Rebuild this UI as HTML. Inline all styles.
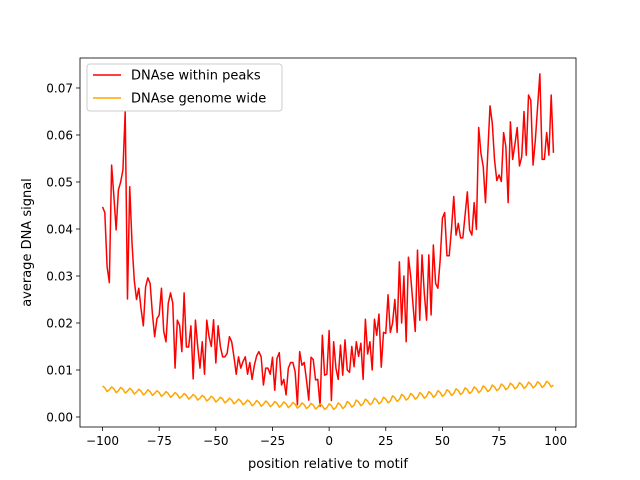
<!DOCTYPE html>
<html><head><meta charset="utf-8"><style>
html,body{margin:0;padding:0;background:#fff;}
svg{display:block;font-family:"DejaVu Sans","Liberation Sans",sans-serif;}
</style></head><body>
<svg id="chart" width="640" height="480" viewBox="0 0 640 480"></svg>
<script>
const positions = [];
for (let i = -100; i <= 99; i++) positions.push(i);
const peaksSeries = [
.0447,.0435,.032,.0286,.0536,.047,.0398,.0483,.050,.0526,
.065,.0251,.049,.037,.0291,.025,.0274,.023,.0194,.0277,
.0296,.0284,.022,.0171,.0209,.0217,.0274,.0182,.016,.0242,
.0264,.0242,.0104,.0206,.0195,.0139,.0264,.0149,.0149,.0194,
.0081,.0206,.015,.0104,.016,.0091,.0206,.0171,.015,.0207,
.0115,.0194,.015,.0128,.0128,.0136,.0171,.016,.0128,.0091,
.0128,.0104,.0118,.0128,.0091,.0116,.008,.011,.013,.0139,
.0128,.0068,.0104,.0104,.0091,.0127,.0057,.0125,.0137,.0068,
.008,.0047,.0104,.0116,.0116,.0096,.0026,.0139,.011,.0116,
.0079,.0036,.0127,.0122,.0079,.008,.0023,.0174,.0089,.0091,
.0184,.0035,.016,.0104,.008,.0153,.0089,.0164,.01,.0095,
.015,.0107,.016,.0129,.0157,.008,.0208,.0134,.016,.01,
.0208,.0174,.0219,.0106,.018,.0178,.026,.018,.02,.025,
.018,.033,.02,.03,.016,.034,.0299,.024,.0182,.0355,
.0206,.0345,.0263,.0206,.0345,.0217,.0366,.0284,.0274,.0334,
.0423,.0435,.0343,.0343,.040,.0469,.0387,.0412,.0381,.0381,
.043,.0479,.0398,.0387,.0456,.0399,.0616,.0561,.0533,.0456,
.056,.0662,.0625,.0547,.0503,.0515,.0501,.0605,.0575,.0456,
.0628,.0548,.058,.0616,.0534,.0554,.065,.0557,.0685,.0674,
.0536,.0589,.066,.073,.0548,.0548,.0605,.0557,.0685,.0562];
const genomeSeries = [
.0066,.0062,.0054,.0058,.0064,.0060,.0052,.0056,.0063,.0059,.0051,.0055,.0061,.0057,.0049,.0053,
.0059,.0055,.0047,.0051,.0058,.0054,.0046,.0050,.0056,.0052,.0044,.0048,.0054,.0050,.0042,.0046,
.0052,.0048,.0040,.0044,.0050,.0046,.0038,.0042,.0048,.0044,.0036,.0040,.0046,.0042,.0034,.0038,
.0044,.0040,.0032,.0036,.0042,.0038,.0030,.0034,.0040,.0036,.0028,.0032,.0038,.0034,.0026,.0030,
.0036,.0032,.0024,.0028,.0035,.0031,.0023,.0027,.0034,.0030,.0022,.0026,.0033,.0029,.0021,.0025,
.0032,.0028,.0020,.0024,.0031,.0027,.0019,.0023,.0030,.0026,.0018,.0022,.0029,.0025,.0017,.0021,
.0028,.0024,.0016,.0020,.0028,.0024,.0016,.0020,.0030,.0026,.0018,.0022,.0033,.0029,.0021,.0025,
.0036,.0032,.0024,.0028,.0038,.0034,.0026,.0030,.0040,.0036,.0028,.0032,.0042,.0038,.0030,.0034,
.0045,.0041,.0033,.0037,.0048,.0044,.0036,.0040,.0050,.0046,.0038,.0042,.0052,.0048,.0040,.0044,
.0054,.0050,.0042,.0046,.0056,.0052,.0044,.0048,.0058,.0054,.0046,.0050,.0060,.0056,.0048,.0052,
.0062,.0058,.0050,.0054,.0064,.0060,.0052,.0056,.0066,.0062,.0054,.0058,.0068,.0064,.0056,.0060,
.0070,.0066,.0058,.0062,.0072,.0068,.0060,.0064,.0073,.0069,.0061,.0065,.0074,.0070,.0062,.0066,
.0075,.0071,.0063,.0067,.0076,.0072,.0064,.0068];
const xTicks = [-100,-75,-50,-25,0,25,50,75,100];
const yTicks = [0,0.01,0.02,0.03,0.04,0.05,0.06,0.07];
const yTickLabels = ["0.00","0.01","0.02","0.03","0.04","0.05","0.06","0.07"];

const L=80,R=576,T=58,B=427;
const xMin=-109.95,xMax=108.95,yMin=-0.00213,yMax=0.07638;
const sx=v=>L+(v-xMin)/(xMax-xMin)*(R-L);
const sy=v=>B-(v-yMin)/(yMax-yMin)*(B-T);
const NS="http://www.w3.org/2000/svg";
const svg=document.getElementById('chart');
function mk(tag,attrs,parent){const e=document.createElementNS(NS,tag);for(const k in attrs)e.setAttribute(k,attrs[k]);(parent||svg).appendChild(e);return e;}

const xg=mk('g',{});


xTicks.forEach(t=>{
  const x=sx(t);
  const tk=mk('line',{x1:x,x2:x,y1:B,y2:B+4,stroke:'#000','stroke-width':0.8},xg);
  
  
  const tx=mk('text',{x:x,y:B+18,'font-size':12,'text-anchor':'middle',fill:'#000'},xg);
  tx.textContent=(t<0?'\u2212'+(-t):t);
  
  
});
const yg=mk('g',{});


yTicks.forEach((t,i)=>{
  const y=sy(t);
  const tk=mk('line',{x1:L-4,x2:L,y1:y,y2:y,stroke:'#000','stroke-width':0.8},yg);
  
  
  const tx=mk('text',{x:L-7,y:y+4.5,'font-size':12,'text-anchor':'end',fill:'#000'},yg);
  tx.textContent=yTickLabels[i];
  
  
});
function line(vals,color,name){
  const d=vals.map((v,i)=>(i?'L':'M')+sx(positions[i]).toFixed(2)+' '+sy(v).toFixed(2)).join(' ');
  const p=mk('path',{d:d,fill:'none',stroke:color,'stroke-width':1.5,'stroke-linejoin':'round'});
  
  
}
line(peaksSeries,'#ff0000','dnase-within-peaks-line');
line(genomeSeries,'#ffa500','dnase-genome-wide-line');

const frame=mk('rect',{x:L,y:T,width:R-L,height:B-T,fill:'none',stroke:'#000','stroke-width':0.8});



const xt=mk('text',{x:(L+R)/2,y:468,'font-size':13,'text-anchor':'middle',fill:'#000'});
xt.textContent='position relative to motif';


const yt=mk('text',{x:0,y:0,'font-size':13,'text-anchor':'middle',fill:'#000',transform:'translate(31,'+((T+B)/2)+') rotate(-90)'});
yt.textContent='average DNA signal';



const lg=mk('g',{});


mk('rect',{x:87,y:64,width:195,height:47,rx:3,fill:'#fff','fill-opacity':0.8,stroke:'#ccc','stroke-width':1},lg);
[['DNAse within peaks','#ff0000',75],['DNAse genome wide','#ffa500',98]].forEach(([lab,c,y])=>{
  const e=mk('g',{},lg);
  
  
  mk('line',{x1:93,x2:121,y1:y,y2:y,stroke:c,'stroke-width':1.5},e);
  const t=mk('text',{x:131,y:y+4.5,'font-size':13,fill:'#000'},e);
  t.textContent=lab;
});
</script>
</body></html>
